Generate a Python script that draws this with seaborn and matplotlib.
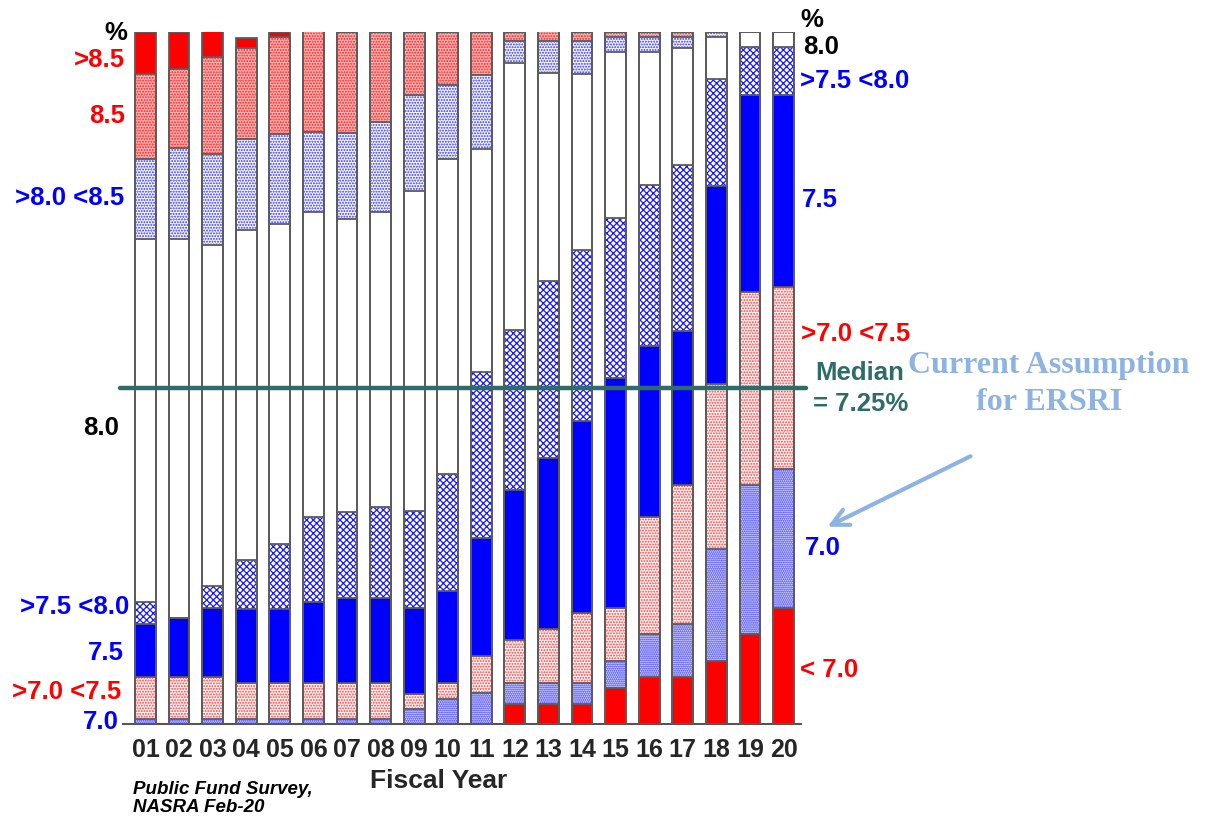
import numpy as np
import matplotlib
matplotlib.use("Agg")
import matplotlib.pyplot as plt
import seaborn as sns

# Share of plans (%) by assumed rate of return, fiscal years 2001-2020
years = ["01", "02", "03", "04", "05", "06", "07", "08", "09", "10",
         "11", "12", "13", "14", "15", "16", "17", "18", "19", "20"]
below_70 = [0, 0, 0, 0, 0, 0, 0, 0, 0, 0,
            0, 3.0, 3.0, 3.0, 5.3, 6.8, 6.8, 9.1, 13.0, 16.8]
at_70 = [0.7, 0.7, 0.7, 0.7, 0.7, 0.7, 0.7, 0.7, 2.2, 3.7,
         4.5, 3.0, 3.0, 3.0, 3.9, 6.2, 7.7, 16.2, 21.6, 20.1]
btw_70_75 = [6.1, 6.1, 6.1, 5.2, 5.2, 5.2, 5.2, 5.2, 2.2, 2.3,
             5.4, 6.2, 7.8, 10.0, 7.6, 16.9, 20.0, 23.8, 27.8, 26.2]
at_75 = [7.7, 8.6, 10.0, 10.8, 10.8, 11.7, 12.4, 12.4, 12.4, 13.2,
         17.0, 21.6, 24.7, 27.8, 33.2, 24.7, 22.3, 28.6, 28.4, 27.7]
btw_75_80 = [3.1, 0, 3.2, 7.0, 9.3, 12.4, 12.4, 13.1, 14.0, 17.0,
             23.9, 23.1, 25.5, 24.7, 23.1, 23.2, 23.9, 15.4, 7.0, 7.0]
at_80 = [52.4, 54.7, 49.2, 47.7, 46.2, 43.9, 42.3, 42.5, 46.2, 45.4,
         32.3, 38.6, 30.0, 25.4, 23.9, 19.2, 17.0, 6.2, 2.2, 2.2]
btw_80_85 = [11.6, 13.1, 13.1, 13.1, 13.1, 11.6, 12.4, 13.0, 13.8, 10.7,
             10.7, 3.1, 4.7, 4.7, 2.3, 2.3, 1.5, 0.7, 0, 0]
at_85 = [12.3, 11.4, 14.0, 13.1, 13.9, 14.6, 14.6, 13.0, 9.2, 7.7,
         6.2, 1.4, 1.4, 1.4, 0.7, 0.7, 0.7, 0, 0, 0]
above_85 = [6.1, 5.4, 3.8, 1.5, 0.7, 0, 0, 0, 0, 0,
            0, 0, 0, 0, 0, 0, 0, 0, 0, 0]
median_rate = 7.25
median_level = 48.6  # height of the median marker on the percentage scale

layers = [below_70, at_70, btw_70_75, at_75, btw_75_80,
          at_80, btw_80_85, at_85, above_85]
# (fill colour, hatch, hatch colour) for each band, bottom to top
styles = [
    ("#ff0000", None, "#ff0000"),
    ("#dcdcff", "........", "#2a2aff"),
    ("#fff0f0", "......", "#ff4040"),
    ("#0000ff", None, "#0000ff"),
    ("#ffffff", "xxxxx", "#1a1aff"),
    ("#ffffff", None, "#ffffff"),
    ("#f0f0ff", "......", "#3535ff"),
    ("#ffb0b0", "......", "#ff2020"),
    ("#ff0000", None, "#ff0000"),
]

sns.set_style("white")
plt.rcParams["font.family"] = ["Liberation Sans", "DejaVu Sans"]
plt.rcParams["hatch.linewidth"] = 0.9

W, H = 1207, 819
fig = plt.figure(figsize=(W / 100, H / 100), dpi=100)
ax = fig.add_axes([123 / W, 1 - 724.3 / H, (801 - 123) / W, (724.3 - 31.7) / H])


def fp(x, y):
    return x / W, 1 - y / H


cum = np.cumsum(np.array(layers, dtype=float), axis=0)
bar_w = 0.62

# filled bands: tallest cumulative first, each shorter one drawn over it
for k in range(len(layers) - 1, -1, -1):
    face, hatch, hcol = styles[k]
    n0 = len(ax.patches)
    sns.barplot(x=years, y=cum[k], order=years, width=bar_w, saturation=1,
                color=face, ax=ax)
    for p in ax.patches[n0:]:
        p.set_facecolor(face)
        p.set_hatch(hatch)
        p.set_edgecolor(hcol)
        p.set_linewidth(0)
        p.set_zorder(2 + (len(layers) - k) * 0.1)

# band separators and bar outlines
for k in range(len(layers)):
    n0 = len(ax.patches)
    sns.barplot(x=years, y=cum[k], order=years, width=bar_w, saturation=1,
                color="#ffffff", ax=ax)
    for p in ax.patches[n0:]:
        p.set_facecolor("none")
        p.set_hatch(None)
        p.set_edgecolor("#5c5c5c")
        p.set_linewidth(1.3)
        p.set_zorder(4)

ax.set_xlim(-0.67, 19.52)
ax.set_ylim(0, 100)
for s in ["left", "right", "top"]:
    ax.spines[s].set_visible(False)
ax.spines["bottom"].set_color("#555555")
ax.spines["bottom"].set_linewidth(1.5)
ax.set_yticks([0])
ax.set_yticklabels([""])
ax.tick_params(axis="y", length=5, color="#555555", width=1.2)
ax.tick_params(axis="x", length=0, pad=10)
ax.set_xticks(range(len(years)))
ax.set_xticklabels(years, fontsize=18, fontweight="bold")
ax.set_ylabel("")
ax.set_xlabel("Fiscal Year", fontsize=19, fontweight="bold")
ax.xaxis.set_label_coords((439 - 123) / 678, (724.3 - 781) / 692.6)
ax.xaxis.label.set_va("center")

# median line
teal = "#2f6b68"
ax.axhline(median_level, xmin=-0.005, xmax=1.008, color=teal, lw=3.2,
           clip_on=False, zorder=6)

RED, BLUE, BLACK = "#ff0000", "#0000ff", "#000000"
fs = 18.5

# left-hand band labels (early years)
left_labels = [
    ("%", 127, 33, BLACK),
    (">8.5", 125, 60, RED),
    ("8.5", 125, 116, RED),
    (">8.0 <8.5", 124, 198, BLUE),
    ("8.0", 119, 428, BLACK),
    (">7.5 <8.0", 129, 607, BLUE),
    ("7.5", 124, 653, BLUE),
    (">7.0 <7.5", 121, 692, RED),
    ("7.0", 119, 722, BLUE),
]
for txt, x, y, c in left_labels:
    fig.text(*fp(x, y), txt, ha="right", va="center", fontsize=fs,
             fontweight="bold", color=c)

# right-hand band labels (latest year)
right_labels = [
    ("%", 800, 20, BLACK),
    ("8.0", 803, 47, BLACK),
    (">7.5 <8.0", 800, 81, BLUE),
    ("7.5", 802, 200, BLUE),
    (">7.0 <7.5", 801, 334, RED),
    ("7.0", 805, 548, BLUE),
    ("< 7.0", 800, 670, RED),
]
for txt, x, y, c in right_labels:
    fig.text(*fp(x, y), txt, ha="left", va="center", fontsize=fs,
             fontweight="bold", color=c)

fig.text(*fp(815, 373), "Median", ha="left", va="center", fontsize=fs,
         fontweight="bold", color=teal)
fig.text(*fp(813, 404), f"= {median_rate:.2f}%", ha="left", va="center",
         fontsize=fs, fontweight="bold", color=teal)

light_blue = "#8db3e2"
fig.text(*fp(1049, 366), "Current Assumption", ha="center", va="center",
         fontsize=23, fontweight="bold", color=light_blue,
         family=["Liberation Serif", "DejaVu Serif"])
fig.text(*fp(1049, 403), "for ERSRI", ha="center", va="center",
         fontsize=23, fontweight="bold", color=light_blue,
         family=["Liberation Serif", "DejaVu Serif"])
fig.add_artist(matplotlib.patches.FancyArrowPatch(
    fp(973, 455), fp(825, 528), transform=fig.transFigure,
    arrowstyle="->,head_length=12,head_width=6", mutation_scale=1,
    color=light_blue, lw=3))

fig.text(*fp(133, 789), "Public Fund Survey,", ha="left", va="center",
         fontsize=13.5, fontweight="bold", style="italic", color=BLACK)
fig.text(*fp(133, 808), "NASRA Feb-20", ha="left", va="center",
         fontsize=13.5, fontweight="bold", style="italic", color=BLACK)

fig.savefig("out.png", dpi=100, facecolor="white")
